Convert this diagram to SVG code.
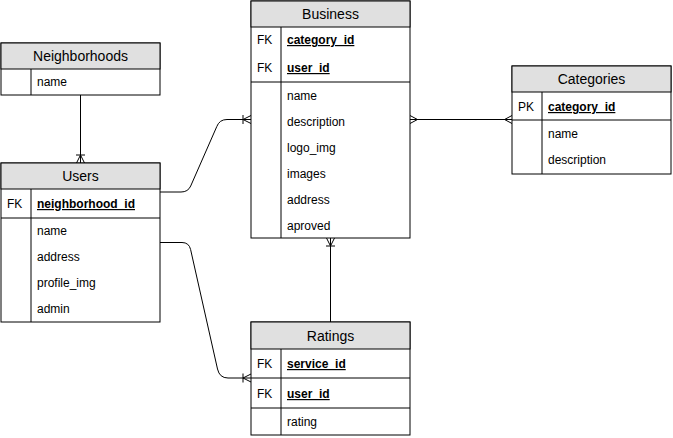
<svg xmlns="http://www.w3.org/2000/svg" width="673" height="438" viewBox="0 0 673 438">
<defs>
<style>
.tbl{fill:#fff;stroke:#000;stroke-width:1}
.hdr{fill:#e0e0e0;stroke:#000;stroke-width:1}
.ln{stroke:#000;stroke-width:1;fill:none}
.ht{font-family:"Liberation Sans",Arial,sans-serif;font-size:14px;fill:#000;text-anchor:middle}
.rt{font-family:"Liberation Sans",Arial,sans-serif;font-size:12px;fill:#000}
.kt{font-family:"Liberation Sans",Arial,sans-serif;font-size:12px;fill:#000;font-weight:bold;text-decoration:underline}
.edge{stroke:#000;stroke-width:1;fill:none}
</style>
<marker id="oneMany" markerUnits="userSpaceOnUse" markerWidth="14" markerHeight="14" viewBox="-12 -7 14 14" refX="0" refY="0" orient="auto" overflow="visible">
<path d="M-8,0 L0,-4 M-8,0 L0,4 M-8,-4.5 L-8,4.5" stroke="#000" stroke-width="1" fill="none"/>
</marker>
<marker id="many" markerUnits="userSpaceOnUse" markerWidth="14" markerHeight="14" viewBox="-12 -7 14 14" refX="0" refY="0" orient="auto-start-reverse" overflow="visible">
<path d="M-7.5,0 L0,-4 M-7.5,0 L0,4" stroke="#000" stroke-width="1" fill="none"/>
</marker>
</defs>
<rect width="673" height="438" fill="#fff"/>

<g id="connectors">
<path class="edge" d="M80.5,95 V163" marker-end="url(#oneMany)"/>
<path class="edge" d="M160,192 H181 Q188,192 190.7,186 L216.8,126.5 Q219.5,119.5 227,119.5 H251" marker-end="url(#oneMany)"/>
<path class="edge" d="M160,242.5 H182 Q189,242.5 190.6,249.5 L217.5,369 Q219.5,378 228,378 H251" marker-end="url(#oneMany)"/>
<path class="edge" d="M330.5,322 V238" marker-end="url(#oneMany)"/>
<path class="edge" d="M410,119.5 H512" marker-start="url(#many)" marker-end="url(#many)"/>
</g>

<g id="neighborhoods">
<rect class="tbl" x="1" y="43" width="159" height="52"/>
<rect class="hdr" x="1" y="43" width="159" height="26"/>
<text class="ht" x="80.5" y="61">Neighborhoods</text>
<line class="ln" x1="31" y1="69" x2="31" y2="95"/>
<text class="rt" x="37" y="86">name</text>
</g>

<g id="users">
<rect class="tbl" x="1" y="163" width="159" height="159"/>
<rect class="hdr" x="1" y="163" width="159" height="26"/>
<text class="ht" x="80.5" y="181">Users</text>
<line class="ln" x1="31" y1="189" x2="31" y2="322"/>
<line class="ln" x1="1" y1="218" x2="160" y2="218"/>
<text class="rt" x="7" y="208">FK</text>
<text class="kt" x="37" y="208">neighborhood_id</text>
<text class="rt" x="37" y="235">name</text>
<text class="rt" x="37" y="261">address</text>
<text class="rt" x="37" y="287">profile_img</text>
<text class="rt" x="37" y="313">admin</text>
</g>

<g id="business">
<rect class="tbl" x="251" y="1" width="159" height="237"/>
<rect class="hdr" x="251" y="1" width="159" height="26"/>
<text class="ht" x="330.5" y="19">Business</text>
<line class="ln" x1="281" y1="27" x2="281" y2="238"/>
<line class="ln" x1="251" y1="82" x2="410" y2="82"/>
<text class="rt" x="257" y="44">FK</text>
<text class="kt" x="287" y="44">category_id</text>
<text class="rt" x="257" y="72">FK</text>
<text class="kt" x="287" y="72">user_id</text>
<text class="rt" x="287" y="100">name</text>
<text class="rt" x="287" y="126">description</text>
<text class="rt" x="287" y="152">logo_img</text>
<text class="rt" x="287" y="178">images</text>
<text class="rt" x="287" y="204">address</text>
<text class="rt" x="287" y="230">aproved</text>
</g>

<g id="categories">
<rect class="tbl" x="512" y="66" width="159" height="108"/>
<rect class="hdr" x="512" y="66" width="159" height="26"/>
<text class="ht" x="591.5" y="84">Categories</text>
<line class="ln" x1="542" y1="92" x2="542" y2="174"/>
<line class="ln" x1="512" y1="120" x2="671" y2="120"/>
<text class="rt" x="518" y="111">PK</text>
<text class="kt" x="548" y="111">category_id</text>
<text class="rt" x="548" y="138">name</text>
<text class="rt" x="548" y="164">description</text>
</g>

<g id="ratings">
<rect class="tbl" x="251" y="322" width="159" height="113"/>
<rect class="hdr" x="251" y="322" width="159" height="27"/>
<text class="ht" x="330.5" y="341">Ratings</text>
<line class="ln" x1="281" y1="349" x2="281" y2="435"/>
<line class="ln" x1="251" y1="378" x2="410" y2="378"/>
<line class="ln" x1="251" y1="408" x2="410" y2="408"/>
<text class="rt" x="257" y="368">FK</text>
<text class="kt" x="287" y="368">service_id</text>
<text class="rt" x="257" y="398">FK</text>
<text class="kt" x="287" y="398">user_id</text>
<text class="rt" x="287" y="426">rating</text>
</g>
</svg>
